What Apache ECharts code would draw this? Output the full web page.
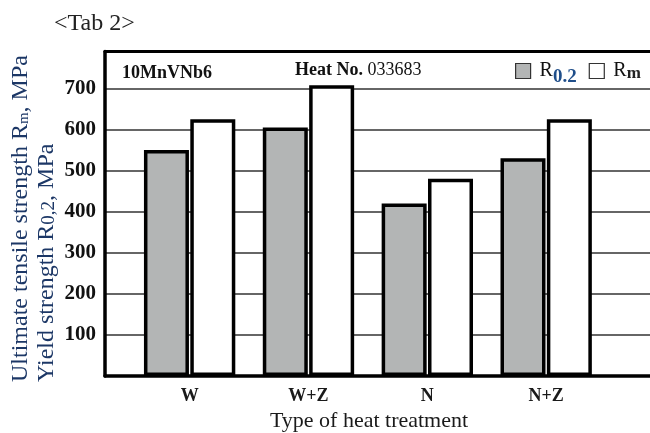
<!DOCTYPE html>
<html>
<head>
<meta charset="utf-8">
<script src="https://cdn.jsdelivr.net/npm/echarts@6/dist/echarts.min.js"></script>
<style>html,body{margin:0;padding:0;background:#fff;}#c{width:650px;height:433px;}</style>
</head>
<body>
<div id="c"></div>
<script>
var categories = ['W', 'W+Z', 'N', 'N+Z'];
var yieldR02 = [550, 605, 420, 530];
var tensileRm = [625, 708, 480, 625];
var yTicks = [100, 200, 300, 400, 500, 600, 700];

var SERIF = '"Liberation Serif", "Times New Roman", serif';
var chart = echarts.init(document.getElementById('c'));
var TOP = 51.5, BOTTOM = 57, YMAX = 790;

chart.setOption({
  animation: false,
  backgroundColor: '#fff',
  grid: [
    { left: 105, right: -3, top: TOP, bottom: BOTTOM, containLabel: false },
    { left: 130.2, right: 44.4, top: TOP, bottom: BOTTOM, containLabel: false }
  ],
  xAxis: [
    { type: 'value', gridIndex: 0, min: 0, max: 1, position: 'bottom',
      axisLine: { show: true, lineStyle: { color: '#000', width: 3.5 } },
      axisTick: { show: false }, axisLabel: { show: false }, splitLine: { show: false } },
    { type: 'value', gridIndex: 0, min: 0, max: 1, position: 'top',
      axisLine: { show: true, lineStyle: { color: '#000', width: 3 } },
      axisTick: { show: false }, axisLabel: { show: false }, splitLine: { show: false } },
    { type: 'category', gridIndex: 1, data: categories,
      axisLine: { show: false }, axisTick: { show: false }, splitLine: { show: false },
      axisLabel: { fontFamily: SERIF, fontWeight: 'bold', fontSize: 18, color: '#1a1a1a', margin: 11 } }
  ],
  yAxis: [
    { type: 'value', gridIndex: 0, min: 0, max: YMAX, interval: 100,
      axisLine: { show: true, lineStyle: { color: '#000', width: 3.5 } },
      axisTick: { show: false },
      axisLabel: { fontFamily: SERIF, fontWeight: 'bold', fontSize: 21, color: '#111', margin: 9,
        formatter: function (v) { return yTicks.indexOf(v) >= 0 ? String(v) : ''; } },
      splitLine: { show: true, lineStyle: { color: '#333', width: 1.5 } } },
    { type: 'value', gridIndex: 1, min: 0, max: YMAX, interval: 100, show: false,
      splitLine: { show: false } }
  ],
  legend: {
    left: 510, top: 56, itemWidth: 15, itemHeight: 15, itemGap: 12, icon: 'rect',
    itemStyle: { borderWidth: 1.2, borderColor: '#333' },
    textStyle: {
      fontFamily: SERIF, fontSize: 20, color: '#111',
      rich: {
        r: { fontFamily: SERIF, fontSize: 20, color: '#111', padding: [0, 0, 0, 4] },
        s1: { fontFamily: SERIF, fontSize: 19, fontWeight: 'bold', color: '#1f4e8a', padding: [12, 0, 0, 0] },
        s2: { fontFamily: SERIF, fontSize: 17, fontWeight: 'bold', color: '#222', padding: [6, 0, 0, 0] }
      }
    },
    formatter: function (n) { return n === 'R0.2' ? '{r|R}{s1|0.2}' : '{r|R}{s2|m}'; },
    data: ['R0.2', 'Rm']
  },
  graphic: [
    { type: 'text', left: 54, top: 12, style: { text: '<Tab 2>', fill: '#222', font: '24px ' + SERIF } },
    { type: 'text', left: 122, top: 64, style: { text: '10MnVNb6', fill: '#111', font: 'bold 18px ' + SERIF } },
    { type: 'text', left: 295, top: 61, style: {
        text: '{b|Heat No.} {n|033683}', fill: '#111', font: '18px ' + SERIF,
        rich: { b: { fontFamily: SERIF, fontWeight: 'bold', fontSize: 18, color: '#111' },
                n: { fontFamily: SERIF, fontSize: 18, color: '#1e2d4a' } } } },
    { type: 'text', x: 21, y: 382, rotation: Math.PI / 2, style: {
        text: '{a|Ultimate tensile strength R}{s|m}{a|, MPa}', fill: '#1c3766',
        textAlign: 'left', textVerticalAlign: 'middle', align: 'left', verticalAlign: 'middle',
        rich: { a: { fontFamily: SERIF, fontSize: 24, color: '#1c3766' },
                s: { fontFamily: SERIF, fontSize: 15, color: '#1c3766', padding: [6, 0, 0, 0] } } } },
    { type: 'text', x: 47, y: 382, rotation: Math.PI / 2, style: {
        text: '{a|Yield strength R}{s|0,2}{a|, MPa}', fill: '#1c3766',
        textAlign: 'left', textVerticalAlign: 'middle', align: 'left', verticalAlign: 'middle',
        rich: { a: { fontFamily: SERIF, fontSize: 24, color: '#1c3766' },
                s: { fontFamily: SERIF, fontSize: 19, color: '#1c3766', padding: [4, 0, 0, 0] } } } },
    { type: 'text', x: 369, y: 421, style: {
        text: 'Type of heat treatment', fill: '#1a1a1a', font: '22px ' + SERIF,
        textAlign: 'center', textVerticalAlign: 'middle', align: 'center', verticalAlign: 'middle' } }
  ],
  series: [
    { name: 'R0.2', type: 'bar', xAxisIndex: 2, yAxisIndex: 1, data: yieldR02,
      barWidth: 45, barGap: '3%',
      itemStyle: { color: '#b3b5b5', borderColor: '#000', borderWidth: 3.5 } },
    { name: 'Rm', type: 'bar', xAxisIndex: 2, yAxisIndex: 1, data: tensileRm,
      barWidth: 45, barGap: '3%',
      itemStyle: { color: '#fff', borderColor: '#000', borderWidth: 3.5 } }
  ]
});
</script>
</body>
</html>
